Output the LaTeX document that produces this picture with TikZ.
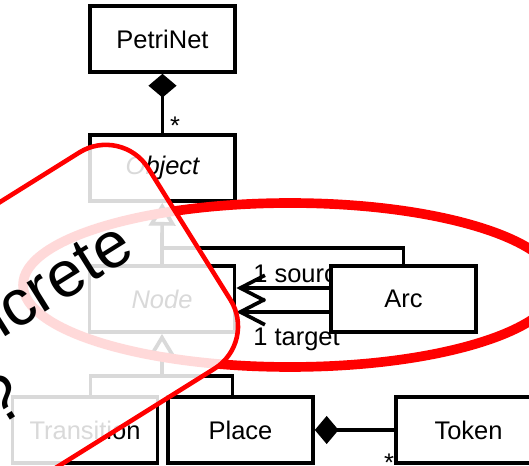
\documentclass[tikz,border=0pt]{standalone}
\usepackage{fontspec}
\setmainfont{Liberation Sans}
\usetikzlibrary{arrows.meta}
\tikzstyle{every node}=[font=\fontsize{14.5}{17}\selectfont]
\tikzstyle{class}=[draw=black,line width=2.1pt,fill=white,minimum width=2.9cm,minimum height=1.32cm,inner sep=0pt]
\tikzstyle{abstract}=[class,font=\fontsize{14.5}{17}\selectfont\itshape]
\tikzstyle{link}=[line width=2.1pt]
\tikzstyle{inherit}=[link,-{Triangle[open,length=13pt,width=15pt]}]
\tikzstyle{compose}=[link,{Diamond[length=13.5pt,width=16pt]}-]
\tikzstyle{assoc}=[link,-{Straight Barb[length=14pt,width=14.5pt]}]
\tikzstyle{mult}=[inner sep=0pt]
\tikzstyle{lens}=[draw=red,line width=2.6pt,fill=white,fill opacity=0.85,rounded corners=1cm,rotate=32,minimum width=12cm,minimum height=5.1cm]
\tikzstyle{remark}=[font=\fontsize{37}{44}\selectfont,rotate=32,inner sep=0pt]

\begin{document}
\begin{tikzpicture}[x=0.02cm,y=-0.02cm]
    \useasboundingbox (0,0) rectangle (529,466);
    \clip (0,0) rectangle (529,466);
    \node[class] (petrinet) at (162.5,39) {PetriNet};
    \node[abstract] (object) at (162.5,168) {Object};
    \node[abstract] (absnode) at (162,299) {Node};
    \node[mult,anchor=base west] (source) at (253,283) {1 source};
    \node[mult,anchor=base west] (target) at (253,346) {1 target};
    \node[class] (arc) at (403.5,299) {Arc};
    \node[class] (transition) at (85,430) {Transition};
    \node[class] (place) at (240.5,430) {Place};
    \node[class] (token) at (468.5,430) {Token};
    \node[mult] (many1) at (175,126) {*};
    \node[mult] (many2) at (389,463) {*};
    \coordinate (upper) at (162,248);
    \coordinate (lower) at (162,376);
    \draw[compose] (petrinet) -- (object);
    \draw[inherit] (upper) -- (object);
    \draw[link] (absnode) -- (upper) -| (arc);
    \draw[inherit] (lower) -- (absnode);
    \draw[link] (transition.81) |- (lower) -| (place.103);
    \draw[assoc] ([yshift=0.22cm]arc.west) -- ([yshift=0.22cm]absnode.east);
    \draw[assoc] ([yshift=-0.26cm]arc.west) -- ([yshift=-0.26cm]absnode.east);
    \draw[compose] (place) -- (token);
    \draw[red,line width=5.5pt] (290,285) ellipse [x radius=5.34cm,y radius=1.64cm];
    \node[lens] (lens) at (-65,393) {};
    \node[remark,anchor=base east] (question) at (137,255) {concrete};
    \node[remark,anchor=base] (mark) at (14,418) {?};
\end{tikzpicture}
\end{document}
